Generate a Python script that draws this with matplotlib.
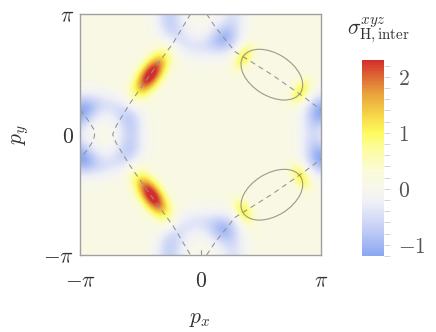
import numpy as np
import matplotlib

matplotlib.use("Agg")
import matplotlib.pyplot as plt
from matplotlib.colors import LinearSegmentedColormap
from matplotlib.patches import Ellipse

plt.rcParams["mathtext.fontset"] = "cm"
plt.rcParams["font.family"] = "serif"

PI = np.pi

# field model: background level + elongated gaussian features (x0, y0, amplitude, sigma_long, sigma_short, angle)
background = 0.12
blob_x = [-1.31, -1.28, 1.11, 2.60, 2.60, 1.11,
          -PI, -PI, -1.85, -1.85,
          0.60, -0.72, 0.60, -0.72]
blob_y = [1.57, -1.60, 2.03, 1.12, -1.10, -2.01,
          0.63, -0.63, 0.45, -0.45,
          2.52, 2.85, -2.47, -2.83]
blob_amp = [2.4, 2.4, 1.0, 1.0, 1.0, 1.0,
            -0.8, -0.8, -0.35, -0.35,
            -0.6, -0.25, -0.6, -0.25]
blob_sl = [0.44, 0.44, 0.26, 0.26, 0.26, 0.26,
           0.32, 0.32, 0.34, 0.34,
           0.32, 0.30, 0.32, 0.30]
blob_ss = [0.20, 0.20, 0.15, 0.15, 0.15, 0.15,
           0.32, 0.32, 0.26, 0.26,
           0.28, 0.30, 0.28, 0.30]
blob_ang = [55, -55, 58, 58, -58, -58,
            0, 0, 90, 90,
            -45, 0, 45, 0]

# ring-shaped negative features (center x, center y, radius, width, amplitude)
ring_x = [0.0, -2.60]
ring_y = [PI, 0.0]
ring_r = [0.85, 0.78]
ring_w = [0.24, 0.24]
ring_amp = [-0.48, -0.48]

# dashed curves (data coords)
curve_a_x = [-0.26, -0.71, -1.30, -1.84, -2.20, -2.29, -2.20, -1.84, -1.30, -0.71, -0.26]
curve_a_y = [PI, 2.39, 1.58, 0.81, 0.22, 0.0, -0.22, -0.81, -1.58, -2.39, -PI]
curve_b_top_x = [0.16, 0.38, 0.90, 1.86, 2.68, PI]
curve_b_top_y = [PI, 2.81, 2.16, 1.56, 0.99, 0.64]
curve_b_bot_x = [0.16, 0.38, 0.90, 1.86, 2.68, PI]
curve_b_bot_y = [-PI, -2.81, -2.16, -1.56, -0.99, -0.64]
curve_b_wrap_x = [-PI, -2.95, -2.79, -2.76, -2.79, -2.95, -PI]
curve_b_wrap_y = [0.64, 0.40, 0.15, 0.0, -0.15, -0.40, -0.64]
tick_x = [0.0, 0.0]
tick_y = [-PI, -2.96]

# ellipses: center x, center y, width, height, angle
ell_x = [1.86, 1.86]
ell_y = [1.56, -1.57]
ell_w = [1.77, 1.77]
ell_h = [1.10, 1.10]
ell_ang = [-32, 32]

# colormap anchors
cmap_vals = [-1.2, -0.7, -0.25, 0.0, 0.35, 0.75, 1.0, 1.3, 1.7, 2.0, 2.3]
cmap_cols = ["#8ba7f1", "#c5d0f6", "#eeeff7", "#f7f7ee", "#fbfbd4", "#fcfc9a",
             "#fdfb5e", "#f6d84a", "#e9a33c", "#dd6a33", "#d42d2d"]
vmin, vmax = -1.2, 2.3

cbar_ticks = [-1, 0, 1, 2]

SHIFTS = (-2 * PI, 0, 2 * PI)


def field(X, Y):
    Z = np.full_like(X, background)
    for x0, y0, a, sl, ss, ang in zip(blob_x, blob_y, blob_amp, blob_sl, blob_ss, blob_ang):
        t = np.deg2rad(ang)
        for sx in SHIFTS:
            for sy in SHIFTS:
                dx, dy = X - x0 - sx, Y - y0 - sy
                u = dx * np.cos(t) + dy * np.sin(t)
                v = -dx * np.sin(t) + dy * np.cos(t)
                Z += a * np.exp(-0.5 * ((u / sl) ** 2 + (v / ss) ** 2))
    for x0, y0, r0, w, a in zip(ring_x, ring_y, ring_r, ring_w, ring_amp):
        for sx in SHIFTS:
            for sy in SHIFTS:
                r = np.hypot(X - x0 - sx, Y - y0 - sy)
                Z += a * np.exp(-0.5 * ((r - r0) / w) ** 2)
    return Z


g = np.linspace(-PI, PI, 400)
X, Y = np.meshgrid(g, g)
Z = field(X, Y)

pos = [(v - vmin) / (vmax - vmin) for v in cmap_vals]
cmap = LinearSegmentedColormap.from_list("sig", list(zip(pos, cmap_cols)))

fig = plt.figure(figsize=(4.36, 3.32), dpi=100)
ax = fig.add_axes([80 / 436, 77 / 332, 241 / 436, 241 / 332])
im = ax.imshow(Z, origin="lower", extent=[-PI, PI, -PI, PI], cmap=cmap,
               vmin=vmin, vmax=vmax, interpolation="bilinear")

dash = dict(color="#909090", lw=0.75, ls=(0, (5, 4)))
ax.plot(curve_a_x, curve_a_y, **dash)
ax.plot(curve_b_top_x, curve_b_top_y, **dash)
ax.plot(curve_b_bot_x, curve_b_bot_y, **dash)
ax.plot(curve_b_wrap_x, curve_b_wrap_y, **dash)
ax.plot(tick_x, tick_y, **dash)
for cx, cy, w, h, a in zip(ell_x, ell_y, ell_w, ell_h, ell_ang):
    ax.add_patch(Ellipse((cx, cy), w, h, angle=a, fill=False, ec="#9a9a86", lw=0.8))

ax.set_xlim(-PI, PI)
ax.set_ylim(-PI, PI)
ax.set_xticks([-PI, 0, PI])
ax.set_xticklabels([r"$-\pi$", r"$0$", r"$\pi$"])
ax.set_yticks([-PI, 0, PI])
ax.set_yticklabels([r"$-\pi$", r"$0$", r"$\pi$"])
ax.tick_params(length=0, labelsize=15.5, colors="#333333")
ax.tick_params(axis="x", pad=11)
ax.tick_params(axis="y", pad=4)
for s in ax.spines.values():
    s.set_color("#a0a0a0")
    s.set_linewidth(1.0)
fig.text(200 / 436, 1 - 318 / 332, r"$p_x$", ha="center", va="center",
         fontsize=15.5, color="#333333")
fig.text(20 / 436, 1 - 134 / 332, r"$p_y$", ha="center", va="center",
         rotation=90, fontsize=15.5, color="#333333")

cax = fig.add_axes([362 / 436, 76 / 332, 22 / 436, 196 / 332])
cb = fig.colorbar(im, cax=cax)
cb.outline.set_visible(False)
cb.set_ticks(cbar_ticks)
cb.set_ticklabels([r"$%d$" % t if t >= 0 else r"$-%d$" % -t for t in cbar_ticks])
cb.ax.set_yticks(np.arange(-1.2, 2.3, 0.2), minor=True)
cb.ax.tick_params(which="both", length=4, width=0.6, color="#cccccc",
                  labelsize=15.5, labelcolor="#555555", pad=6)
fig.text(378 / 436, 1 - 30 / 332, r"$\sigma^{xyz}_{\mathrm{H,inter}}$",
         ha="center", va="center", fontsize=15.5, color="#333333")

fig.savefig("out.png", dpi=100)
